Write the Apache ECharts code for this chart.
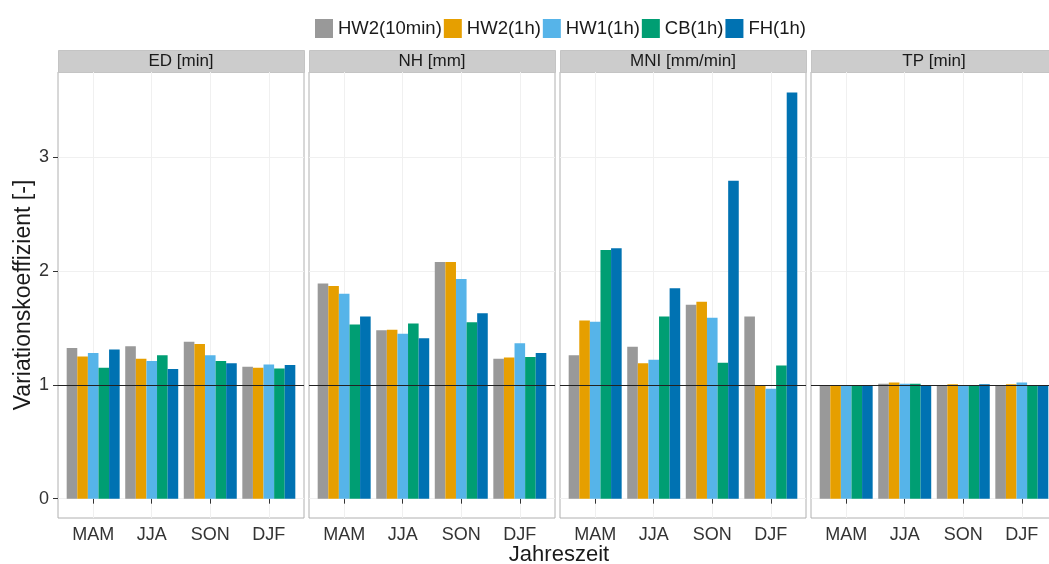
<!DOCTYPE html>
<html>
<head>
<meta charset="utf-8">
<script src="https://cdn.jsdelivr.net/npm/echarts@6/dist/echarts.min.js"></script>
<style>
  html, body { margin: 0; padding: 0; background: #fff; }
  #chart { width: 1049px; height: 564px; }
</style>
</head>
<body>
<div id="chart"></div>
<script>
// Jahreszeiten (x-Achse)
var seasons = ['MAM', 'JJA', 'SON', 'DJF'];
// Facetten
var panels = ['ED [min]', 'NH [mm]', 'MNI [mm/min]', 'TP [min]'];
// Methoden (Legende)
var methods = ['HW2(10min)', 'HW2(1h)', 'HW1(1h)', 'CB(1h)', 'FH(1h)'];
var colors = ['#999999', '#E69F00', '#56B4E9', '#009E73', '#0072B2'];
var yTicks = [0, 1, 2, 3];

// eine Zeile je Methode, Spalten = Jahreszeit
var ED = [
  [1.325, 1.34, 1.38, 1.16],
  [1.25, 1.23, 1.36, 1.15],
  [1.28, 1.21, 1.26, 1.18],
  [1.15, 1.26, 1.21, 1.145],
  [1.31, 1.14, 1.19, 1.175]
];
var NH = [
  [1.89, 1.48, 2.08, 1.23],
  [1.87, 1.485, 2.08, 1.24],
  [1.80, 1.45, 1.93, 1.365],
  [1.53, 1.54, 1.55, 1.245],
  [1.60, 1.41, 1.63, 1.28]
];
var MNI = [
  [1.26, 1.335, 1.705, 1.60],
  [1.565, 1.19, 1.73, 0.995],
  [1.555, 1.22, 1.59, 0.965],
  [2.185, 1.60, 1.195, 1.17],
  [2.20, 1.85, 2.795, 3.57]
];
var TP = [
  [0.995, 1.01, 1.0, 1.0],
  [0.995, 1.02, 1.005, 1.005],
  [0.995, 1.01, 1.0, 1.02],
  [0.995, 1.01, 1.0, 1.0],
  [0.995, 1.0, 1.005, 1.0]
];
var panelData = [ED, NH, MNI, TP];

// Layout
var W = 1049;
var panelLeft = [58, 309, 560, 811];
var panelW = 246;
var gridTop = 72, gridBottom = 46;
var inset = 5.9;   // ggplot: 0.6 Einheiten Rand statt 0.5
var yMin = -0.17, yMax = 3.75;
var textColor = '#333';

var myChart = echarts.init(document.getElementById('chart'));

var grids = [], xAxes = [], yAxes = [], series = [], graphics = [];

for (var p = 0; p < panels.length; p++) {
  var left = panelLeft[p];
  // Rahmen-Grid (Panel mit Gitterlinien)
  grids.push({
    left: left, right: W - left - panelW, top: gridTop, bottom: gridBottom,
    show: true, borderColor: '#b0b0b0', borderWidth: 1, backgroundColor: 'transparent',
    outerBoundsMode: 'none'
  });
  var fi = grids.length - 1;
  xAxes.push({ type: 'value', gridIndex: fi, min: 0, max: 1, show: false });
  yAxes.push({
    type: 'value', gridIndex: fi, min: yMin, max: yMax, interval: 0.5,
    name: p === 0 ? 'Variationskoeffizient [-]' : '',
    nameLocation: 'middle', nameGap: 23,
    nameTextStyle: { fontSize: 23, color: '#1a1a1a', fontFamily: 'Liberation Sans' },
    axisLine: { show: false },
    axisTick: { show: p === 0, length: 5, customValues: yTicks, lineStyle: { color: textColor } },
    axisLabel: {
      show: p === 0, customValues: yTicks, fontSize: 18, color: textColor, margin: 9,
      fontFamily: 'Liberation Sans'
    },
    splitLine: { show: true, lineStyle: { color: '#f0f0f0', width: 1 } }
  });
  // Referenzlinie bei 1
  series.push({
    type: 'line', xAxisIndex: fi, yAxisIndex: fi, data: [], z: 5, silent: true,
    markLine: {
      silent: true, symbol: 'none', label: { show: false }, animation: false,
      lineStyle: { color: '#222', width: 1.2, type: 'solid' },
      data: [{ yAxis: 1 }]
    }
  });

  // Daten-Grid (Balken)
  grids.push({
    left: left + inset, right: W - left - panelW + inset, top: gridTop, bottom: gridBottom,
    show: false, outerBoundsMode: 'none'
  });
  var di = grids.length - 1;
  xAxes.push({
    type: 'category', gridIndex: di, data: seasons,
    axisLine: { show: false },
    axisTick: { show: true, alignWithLabel: true, length: 5, lineStyle: { color: textColor } },
    axisLabel: { fontSize: 18, color: textColor, margin: 8, fontFamily: 'Liberation Sans' },
    splitLine: { show: true, alignWithLabel: true, lineStyle: { color: '#f0f0f0', width: 1 } }
  });
  yAxes.push({ type: 'value', gridIndex: di, min: yMin, max: yMax, show: false });

  var vals = panelData[p];
  for (var m = 0; m < methods.length; m++) {
    series.push({
      name: methods[m], type: 'bar', xAxisIndex: di, yAxisIndex: di,
      itemStyle: { color: colors[m] },
      barGap: '0%', barCategoryGap: '9.5%', z: 2,
      data: vals[m]
    });
  }

  // Streifen (Facettentitel)
  graphics.push({
    type: 'rect', left: left, top: 50,
    shape: { width: panelW, height: 22 },
    style: { fill: '#cccccc', stroke: '#c4c4c4', lineWidth: 1 }
  });
  graphics.push({
    type: 'text', x: left + panelW / 2, y: 61,
    style: {
      text: panels[p], fill: '#1a1a1a', fontSize: 17, fontFamily: 'Liberation Sans',
      textAlign: 'center', textVerticalAlign: 'middle'
    }
  });
}

myChart.setOption({
  animation: false,
  textStyle: { fontFamily: 'Liberation Sans' },
  title: {
    text: 'Jahreszeit', left: 559, top: 544, textAlign: 'center', padding: 0,
    textStyle: { fontSize: 22, fontWeight: 'normal', color: '#1a1a1a', fontFamily: 'Liberation Sans' }
  },
  legend: {
    data: methods, top: 14, left: 310,
    icon: 'rect', itemWidth: 18, itemHeight: 19, itemGap: 2,
    textStyle: { fontSize: 18.5, color: '#1a1a1a', fontFamily: 'Liberation Sans' }
  },
  grid: grids,
  xAxis: xAxes,
  yAxis: yAxes,
  graphic: graphics,
  series: series
});
</script>
</body>
</html>
